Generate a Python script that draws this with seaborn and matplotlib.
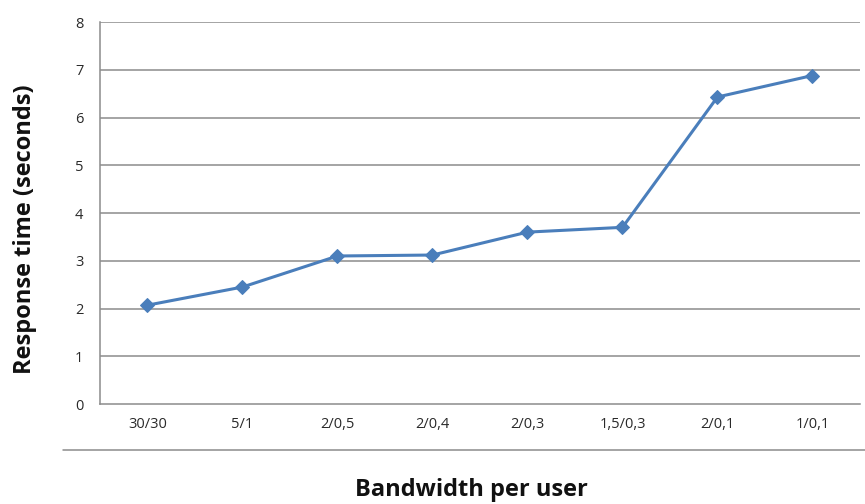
import matplotlib
matplotlib.use("Agg")
import matplotlib.pyplot as plt
from matplotlib.lines import Line2D
import seaborn as sns
import pandas as pd
import numpy as np

# Response time measured for each bandwidth configuration (down/up, Mbit/s)
bandwidth = ["30/30", "5/1", "2/0,5", "2/0,4", "2/0,3", "1,5/0,3", "2/0,1", "1/0,1"]
response_time = [2.07, 2.45, 3.10, 3.12, 3.60, 3.70, 6.43, 6.88]
y_ticks = [0, 1, 2, 3, 4, 5, 6, 7, 8]

df = pd.DataFrame({"bandwidth": bandwidth, "response": response_time})
df["pos"] = np.arange(len(df))

sns.set_theme(style="white")
plt.rcParams["font.family"] = ["Open Sans", "DejaVu Sans"]

line_color = "#4a7ebb"
grid_color = "#8c8c8c"

fig = plt.figure(figsize=(8.65, 5.04), dpi=100)
ax = fig.add_axes([0.1156, 0.1984, 0.8786, 0.7579])

sns.lineplot(data=df, x="pos", y="response", ax=ax, color=line_color,
             linewidth=2.2, marker="D", markersize=7,
             markeredgecolor=line_color, markerfacecolor=line_color)

ax.set_xlim(-0.5, len(bandwidth) - 0.5)
ax.set_ylim(0, 8)
ax.set_yticks(y_ticks)
ax.set_yticklabels([str(t) for t in y_ticks], fontsize=10.5, color="#2a2a2a")

# category labels sit between the boundary tick marks
ax.set_xticks(np.arange(len(bandwidth)))
ax.set_xticklabels(bandwidth, fontsize=10.5, color="#2a2a2a")
ax.tick_params(axis="x", which="major", length=0, pad=9)
ax.set_xticks(np.arange(-0.5, len(bandwidth)), minor=True)
ax.tick_params(axis="x", which="minor", length=4, color=grid_color, width=1, direction="out")
ax.tick_params(axis="y", length=4, color=grid_color, width=1, direction="out", pad=8)

for t in y_ticks[1:]:
    ax.axhline(t, color=grid_color, linewidth=1.1, zorder=0)

for side in ["top", "right"]:
    ax.spines[side].set_visible(False)
for side in ["left", "bottom"]:
    ax.spines[side].set_color(grid_color)
    ax.spines[side].set_linewidth(1.1)

ax.set_xlabel("")
ax.set_ylabel("")

fig.text(0.029, 0.546, "Response time (seconds)", rotation=90, ha="center",
         va="center", fontsize=17, fontweight="bold", color="#111111")

# separator rule beneath the category labels
fig.add_artist(Line2D([0.073, 1.0], [0.107, 0.107], color=grid_color,
                      linewidth=1.1, transform=fig.transFigure))
fig.text(0.545, 0.004, "Bandwidth per user", ha="center", va="bottom",
         fontsize=17, fontweight="bold", color="#111111")

fig.savefig("out.png", dpi=100)
